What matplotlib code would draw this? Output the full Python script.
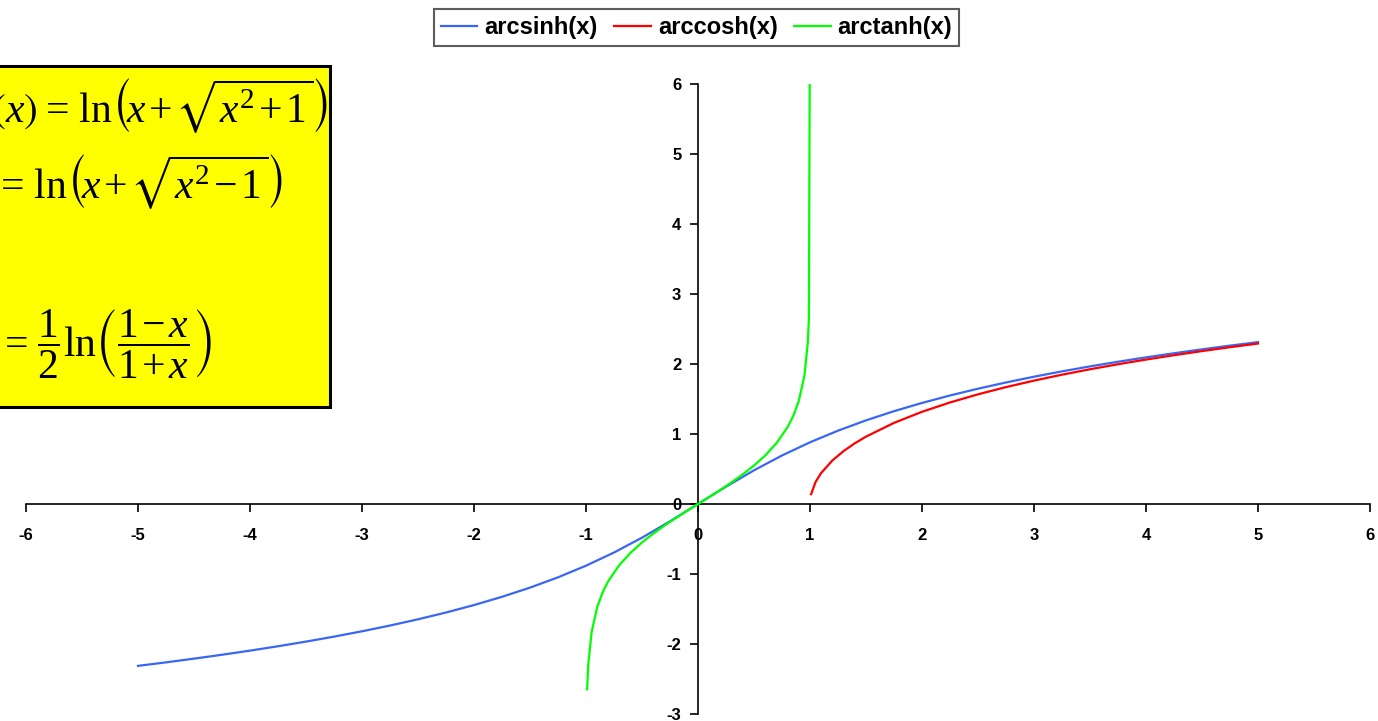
import matplotlib
matplotlib.use("Agg")
import matplotlib.pyplot as plt
from matplotlib.patches import Rectangle

plt.rcParams['font.family'] = ['Liberation Sans', 'DejaVu Sans']
plt.rcParams['mathtext.fontset'] = 'custom'
plt.rcParams['mathtext.rm'] = 'Liberation Serif'
plt.rcParams['mathtext.it'] = 'Liberation Serif:italic'
plt.rcParams['mathtext.fallback'] = 'stix'

# Sample points of the three inverse hyperbolic functions
asinh_x = [-5.0, -4.75, -4.5, -4.25, -4.0, -3.75, -3.5, -3.25, -3.0, -2.75, -2.5,
           -2.25, -2.0, -1.75, -1.5, -1.25, -1.0, -0.75, -0.5, -0.25, 0.0,
           0.25, 0.5, 0.75, 1.0, 1.25, 1.5, 1.75, 2.0, 2.25, 2.5,
           2.75, 3.0, 3.25, 3.5, 3.75, 4.0, 4.25, 4.5, 4.75, 5.0]
asinh_y = [-2.3124, -2.2622, -2.2093, -2.1536, -2.0947, -2.0322, -1.9657, -1.8947, -1.8184, -1.7363, -1.6472,
           -1.5502, -1.4436, -1.3259, -1.1948, -1.0476, -0.8814, -0.6931, -0.4812, -0.2475, 0.0,
           0.2475, 0.4812, 0.6931, 0.8814, 1.0476, 1.1948, 1.3259, 1.4436, 1.5502, 1.6472,
           1.7363, 1.8184, 1.8947, 1.9657, 2.0322, 2.0947, 2.1536, 2.2093, 2.2622, 2.3124]

acosh_x = [1.01, 1.05, 1.1, 1.2, 1.3, 1.4, 1.5, 1.75, 2.0, 2.25, 2.5,
           2.75, 3.0, 3.25, 3.5, 3.75, 4.0, 4.25, 4.5, 4.75, 5.0]
acosh_y = [0.1413, 0.3150, 0.4436, 0.6224, 0.7564, 0.8670, 0.9624, 1.1588, 1.3170, 1.4506, 1.5668,
           1.6699, 1.7627, 1.8473, 1.9248, 1.9966, 2.0634, 2.1259, 2.1846, 2.2400, 2.2924]

atanh_x = [-0.99, -0.98, -0.95, -0.9, -0.85, -0.8, -0.7, -0.6, -0.5, -0.4, -0.3, -0.2, -0.1, 0.0,
           0.1, 0.2, 0.3, 0.4, 0.5, 0.6, 0.7, 0.8, 0.85, 0.9, 0.95, 0.98, 0.99, 0.999999]
atanh_y = [-2.6467, -2.2976, -1.8318, -1.4722, -1.2562, -1.0986, -0.8673, -0.6931, -0.5493, -0.4236,
           -0.3095, -0.2027, -0.1003, 0.0,
           0.1003, 0.2027, 0.3095, 0.4236, 0.5493, 0.6931, 0.8673, 1.0986, 1.2562, 1.4722, 1.8318,
           2.2976, 2.6467, 7.2543]

series_labels = ['arcsinh(x)', 'arccosh(x)', 'arctanh(x)']
series_colors = ['#3A66F8', '#FF0000', '#00FF00']
x_ticks = [-6, -5, -4, -3, -2, -1, 0, 1, 2, 3, 4, 5, 6]
y_ticks = [-3, -2, -1, 0, 1, 2, 3, 4, 5, 6]

W, H = 1378, 721
fig = plt.figure(figsize=(W / 100, H / 100), dpi=100)
fig.patch.set_facecolor('white')

ax = fig.add_axes([26 / W, 1 - 714 / H, (1370 - 26) / W, (714 - 84) / H])
ax.set_xlim(-6, 6)
ax.set_ylim(-3, 6)

lines = []
for xs, ys, lab, col in zip([asinh_x, acosh_x, atanh_x], [asinh_y, acosh_y, atanh_y],
                            series_labels, series_colors):
    ln, = ax.plot(xs, ys, color=col, lw=1.6, label=lab, zorder=3, solid_joinstyle='round')
    lines.append(ln)

for side in ['top', 'right']:
    ax.spines[side].set_visible(False)
ax.spines['left'].set_position('zero')
ax.spines['bottom'].set_position('zero')
for side in ['left', 'bottom']:
    ax.spines[side].set_linewidth(1.2)
    ax.spines[side].set_color('black')
    ax.spines[side].set_zorder(2)

ax.set_xticks(x_ticks)
ax.set_yticks(y_ticks)
ax.set_xticklabels([str(t) for t in x_ticks])
ax.set_yticklabels([str(t) for t in y_ticks])
ax.tick_params(axis='both', direction='out', length=6, width=1.2, labelsize=12,
               colors='black')
ax.tick_params(axis='x', pad=11)
ax.tick_params(axis='y', pad=6)
for lbl in ax.get_xticklabels() + ax.get_yticklabels():
    lbl.set_fontweight('bold')
ax.patch.set_alpha(0)

# Legend across the top
leg = fig.legend(handles=lines, labels=series_labels, loc='center',
                 bbox_to_anchor=(696.5 / W, 1 - 27.5 / H), ncol=3, frameon=True,
                 fancybox=False, edgecolor='#333333', handlelength=1.55,
                 handletextpad=0.3, columnspacing=0.7, borderpad=0.3,
                 borderaxespad=0.0, prop={'weight': 'bold', 'size': 17})
leg.get_frame().set_linewidth(1.5)

# Yellow formula panel at the top-left
panel = Rectangle((-200 / W, 1 - 407 / H), (330 + 200) / W, (407 - 66) / H,
                  transform=fig.transFigure, facecolor='#FFFF00',
                  edgecolor='black', linewidth=2.2, zorder=5)
fig.add_artist(panel)

fs = 30
EQ = r'\hspace{0.08}{=}\hspace{0.12}'
PLUS = r'\hspace{0.1}{+}\hspace{0.14}'
MINUS = r'\hspace{0.1}{-}\hspace{0.14}'
fig.text(328 / W, 1 - 122 / H,
         r'$\mathrm{arcsinh}\left(x\right)' + EQ + r'\mathrm{ln}\left(\!x' + PLUS
         + r'\sqrt{x^{2}' + PLUS + r'1}\right)$',
         ha='right', va='baseline', fontsize=fs, zorder=6)
fig.text(283 / W, 1 - 198 / H,
         r'$\mathrm{arccosh}\left(x\right)' + EQ + r'\mathrm{ln}\left(\!x' + PLUS
         + r'\sqrt{x^{2}' + MINUS + r'1}\right)$',
         ha='right', va='baseline', fontsize=fs, zorder=6)
fig.text(212 / W, 1 - 357 / H,
         r'$\mathrm{arctanh}\left(x\right)' + EQ + r'\dfrac{1}{2}\mathrm{ln}\left(\dfrac{1'
         + MINUS + r'x}{1' + PLUS + r'x}\right)$',
         ha='right', va='baseline', fontsize=fs, zorder=6)

fig.savefig('out.png', dpi=100, facecolor='white')
